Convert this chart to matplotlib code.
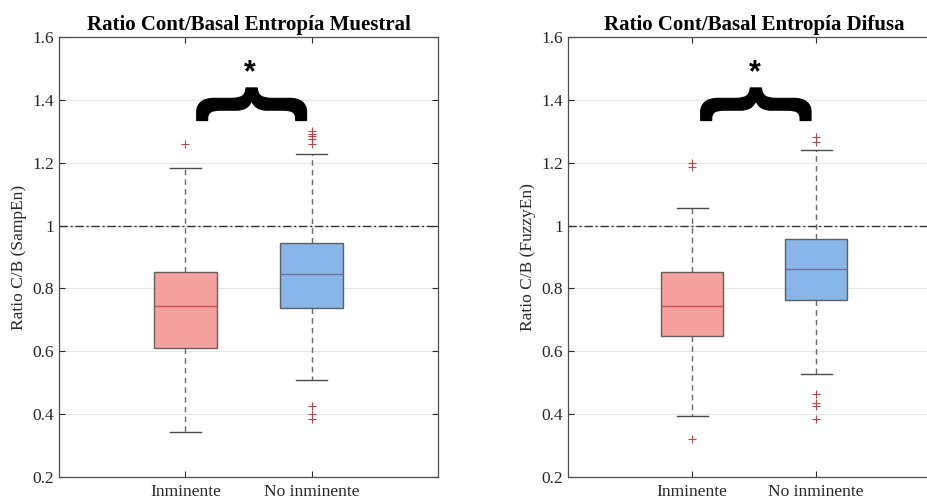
import matplotlib
matplotlib.use("Agg")
from matplotlib import pyplot as plt
from matplotlib.textpath import TextPath
from matplotlib.patches import PathPatch
from matplotlib.font_manager import FontProperties
from matplotlib.transforms import Affine2D

plt.rcParams['font.family'] = ['Liberation Serif', 'DejaVu Serif']

groups = ['Inminente', 'No inminente']
fill_colors = ['#F4918E', '#74AAE4']
median_colors = ['#C8504E', '#6A6E9E']

# Ratio C/B (SampEn)
samp_q1 = [0.610, 0.739]
samp_med = [0.744, 0.846]
samp_q3 = [0.851, 0.944]
samp_whislo = [0.342, 0.509]
samp_whishi = [1.182, 1.227]
samp_fliers = [[1.260],
               [1.302, 1.292, 1.284, 1.275, 1.258, 0.425, 0.400, 0.385]]

# Ratio C/B (FuzzyEn)
fuzzy_q1 = [0.650, 0.764]
fuzzy_med = [0.744, 0.862]
fuzzy_q3 = [0.853, 0.957]
fuzzy_whislo = [0.395, 0.527]
fuzzy_whishi = [1.057, 1.240]
fuzzy_fliers = [[1.198, 1.187, 0.322],
                [1.281, 1.267, 0.464, 0.435, 0.427, 0.384]]

yticks = [0.2, 0.4, 0.6, 0.8, 1.0, 1.2, 1.4, 1.6]
ytick_labels = ['0.2', '0.4', '0.6', '0.8', '1', '1.2', '1.4', '1.6']


def draw_brace(ax, x0, x1, y0, y1):
    """Curly brace lying on its side, point facing up"""
    tp = TextPath((0, 0), '{', prop=FontProperties(family='Liberation Sans', weight='bold'), size=1)
    ext = tp.get_extents()
    tr = (Affine2D().translate(-ext.x0, -ext.y0).scale(1 / ext.width, 1 / ext.height)
          .rotate_deg(-90).translate(0, 1).scale(x1 - x0, y1 - y0).translate(x0, y0))
    ax.add_patch(PathPatch(tr.transform_path(tp), facecolor='black', edgecolor='black',
                           linewidth=0.8, transform=ax.transData, clip_on=False, zorder=5))


def make_panel(ax, title, ylabel, q1, med, q3, whislo, whishi, fliers, brace_x):
    stats = []
    for i in range(len(groups)):
        stats.append(dict(label=groups[i], q1=q1[i], med=med[i], q3=q3[i],
                          whislo=whislo[i], whishi=whishi[i], fliers=fliers[i]))
    bp = ax.bxp(stats, positions=[1, 2], widths=0.5, capwidths=0.25, patch_artist=True,
                showfliers=True,
                boxprops=dict(edgecolor='#4a4a4a', linewidth=1.0),
                whiskerprops=dict(color='#6a6a6a', linestyle=(0, (4, 3)), linewidth=1.0),
                capprops=dict(color='#4a4a4a', linewidth=1.0),
                flierprops=dict(marker='+', markeredgecolor='#B84545', markersize=6,
                                markeredgewidth=0.8, linestyle='none'),
                medianprops=dict(linewidth=1.0))
    for patch, col in zip(bp['boxes'], fill_colors):
        patch.set_facecolor(col)
        patch.set_alpha(0.85)
        patch.set_edgecolor('#4a4a4a')
        patch.set_zorder(3)
    for line, col in zip(bp['medians'], median_colors):
        line.set_color(col)
        line.set_zorder(4)

    ax.axhline(1.0, color='#333333', linestyle=(0, (6, 2, 1.5, 2)), linewidth=1.0, zorder=2)

    ax.set_xlim(0, 3)
    ax.set_ylim(0.2, 1.6)
    ax.set_yticks(yticks)
    ax.set_yticklabels(ytick_labels)
    ax.set_xticks([1, 2])
    ax.set_xticklabels(groups)
    ax.tick_params(direction='in', top=True, right=True, labelsize=12.5,
                   colors='#262626', length=4, width=0.8)
    ax.tick_params(axis='x', pad=5)
    ax.grid(axis='y', color='#e6e6e6', linewidth=0.8, zorder=0)
    ax.set_axisbelow(True)
    for sp in ax.spines.values():
        sp.set_color('#4d4d4d')
        sp.set_linewidth(0.9)

    ax.set_title(title, fontsize=15, fontweight='bold', pad=5)
    ax.set_ylabel(ylabel, fontsize=12.5, color='#262626', labelpad=4)

    draw_brace(ax, brace_x[0], brace_x[1], 1.334, 1.438)
    ax.text(1.51, 1.485, '*', fontsize=22, fontweight='bold', family='Liberation Sans',
            ha='center', va='center')


fig = plt.figure(figsize=(9.27, 5.0), dpi=100)
ax1 = fig.add_axes([59 / 927, 23 / 500, 379 / 927, 440 / 500])
ax2 = fig.add_axes([568 / 927, 23 / 500, 372 / 927, 440 / 500])

make_panel(ax1, 'Ratio Cont/Basal Entropía Muestral', 'Ratio C/B (SampEn)',
           samp_q1, samp_med, samp_q3, samp_whislo, samp_whishi, samp_fliers, (1.09, 1.96))
make_panel(ax2, 'Ratio Cont/Basal Entropía Difusa', 'Ratio C/B (FuzzyEn)',
           fuzzy_q1, fuzzy_med, fuzzy_q3, fuzzy_whislo, fuzzy_whishi, fuzzy_fliers, (1.07, 1.96))
# the right panel runs past the edge of the figure
ax2.spines['right'].set_visible(False)
ax2.tick_params(right=False)

fig.savefig('out.png', dpi=100)
